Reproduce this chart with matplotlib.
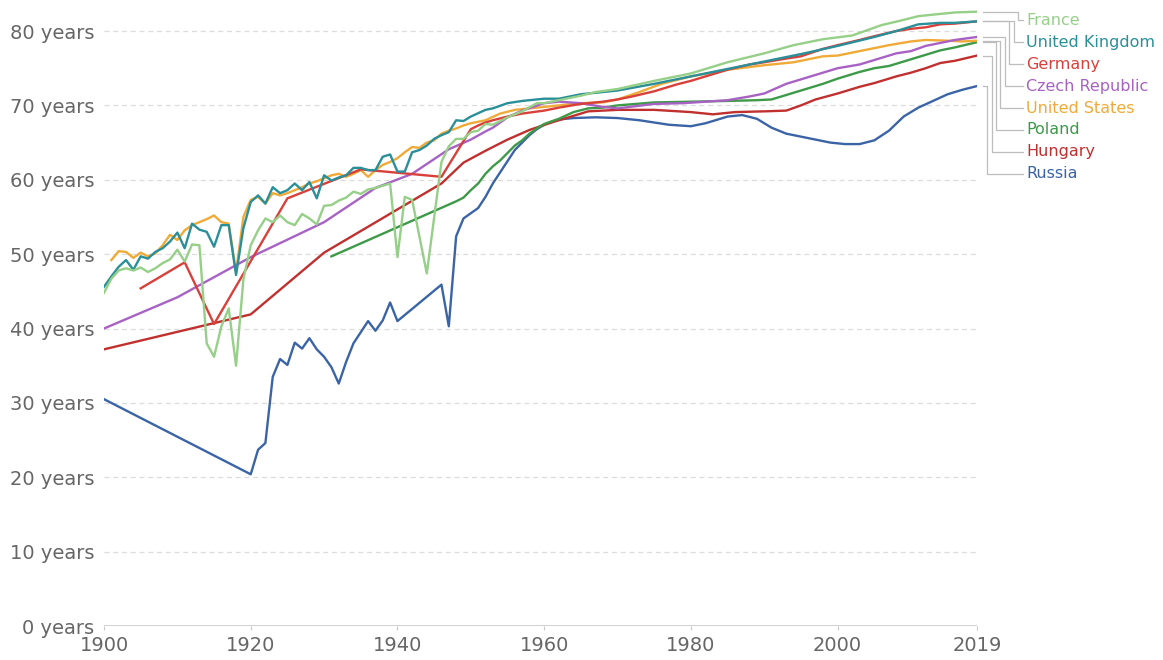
import matplotlib
matplotlib.use("Agg")
import matplotlib.pyplot as plt

plt.rcParams.update({
    "font.family": "DejaVu Sans",
    "figure.dpi": 100,
})

# ---- data (life expectancy, years) ----
france_years = list(range(1900, 1943)) + [1944, 1946, 1947, 1948, 1949, 1950, 1951, 1952, 1953,
                                         1955, 1957, 1959, 1960, 1962, 1965, 1967, 1970, 1975,
                                         1980, 1985, 1990, 1994, 1998, 2002, 2006, 2009, 2011,
                                         2014, 2016, 2019]
france_vals = [44.8, 46.7, 47.8, 48.1, 47.8, 48.2, 47.6, 48.1, 48.8, 49.3,
               50.6, 49.0, 51.3, 51.2, 38.0, 36.2, 40.3, 42.7, 35.0, 46.6,
               51.2, 53.2, 54.8, 54.3, 55.2, 54.3, 53.9, 55.4, 54.8, 54.0,
               56.5, 56.6, 57.2, 57.6, 58.4, 58.1, 58.7, 58.9, 59.2, 59.5,
               49.6, 57.7, 57.3,
               47.4, 62.4, 64.5, 65.5, 65.5, 66.4, 66.6, 67.5, 67.4,
               68.4, 69.2, 70.3, 70.3, 70.7, 71.3, 71.8, 72.2, 73.3,
               74.3, 75.8, 77.0, 78.1, 78.9, 79.4, 80.8, 81.5, 82.0,
               82.3, 82.5, 82.6]

uk_years = list(range(1900, 1951)) + [1952, 1953, 1955, 1957, 1960, 1962, 1965, 1967, 1970,
                                     1975, 1980, 1985, 1990, 1995, 2000, 2005, 2008, 2011,
                                     2014, 2016, 2019]
uk_vals = [45.6, 47.0, 48.3, 49.2, 47.9, 49.7, 49.4, 50.3, 50.8, 51.7,
           52.9, 50.8, 54.1, 53.3, 53.0, 51.0, 53.9, 53.9, 47.2, 53.5,
           57.0, 57.9, 56.8, 59.0, 58.2, 58.6, 59.5, 58.6, 59.7, 57.5,
           60.6, 59.9, 60.3, 60.6, 61.6, 61.6, 61.3, 61.3, 63.1, 63.4,
           61.1, 61.1, 63.7, 64.0, 64.6, 65.5, 66.0, 66.4, 68.0, 67.9,
           68.5, 69.4, 69.6, 70.3, 70.6, 70.9, 70.9, 71.5, 71.7, 72.0,
           72.9, 73.9, 74.9, 75.9, 76.9, 78.0, 79.2, 80.0, 80.9,
           81.1, 81.1, 81.3]

germany_years = [1905, 1911, 1915, 1925, 1935, 1946, 1950, 1951, 1952, 1953, 1955, 1957,
                 1960, 1962, 1965, 1968, 1970, 1972, 1975, 1978, 1980, 1983, 1985, 1988,
                 1990, 1993, 1995, 1998, 2000, 2003, 2005, 2008, 2010, 2012, 2014, 2016, 2019]
germany_vals = [45.4, 48.9, 40.6, 57.5, 61.4, 60.4, 66.8, 67.3, 67.7, 68.0, 68.5, 68.9,
                69.3, 69.7, 70.2, 70.5, 70.8, 71.2, 71.9, 72.8, 73.3, 74.2, 74.8, 75.5,
                75.8, 76.3, 76.6, 77.6, 78.1, 78.8, 79.3, 80.0, 80.3, 80.5, 80.9, 81.0, 81.3]

czech_years = [1900, 1910, 1920, 1930, 1937, 1942, 1947, 1950, 1952, 1953, 1955, 1957, 1960,
               1962, 1965, 1968, 1970, 1975, 1979, 1982, 1985, 1988, 1990, 1993, 1995, 1998,
               2000, 2003, 2005, 2008, 2010, 2012, 2014, 2016, 2019]
czech_vals = [40.0, 44.2, 49.6, 54.3, 58.9, 60.8, 64.1, 65.4, 66.5, 67.0, 68.4, 69.3, 70.3,
              70.5, 70.3, 69.8, 69.6, 70.2, 70.3, 70.5, 70.7, 71.2, 71.6, 72.9, 73.5, 74.4,
              75.0, 75.5, 76.1, 77.0, 77.3, 78.0, 78.4, 78.8, 79.2]

us_years = list(range(1901, 1951)) + [1952, 1954, 1956, 1958, 1960, 1962, 1965, 1968, 1970,
                                     1973, 1976, 1980, 1985, 1990, 1994, 1998, 2000, 2004,
                                     2007, 2010, 2012, 2015, 2017, 2019]
us_vals = [49.2, 50.4, 50.3, 49.5, 50.2, 49.7, 50.1, 51.2, 52.6, 51.9,
           53.2, 53.9, 54.3, 54.7, 55.2, 54.3, 54.1, 47.6, 55.0, 57.3,
           57.7, 56.8, 58.2, 57.9, 58.2, 58.6, 59.0, 59.5, 59.8, 60.2,
           60.6, 60.8, 60.4, 60.8, 61.3, 60.4, 61.3, 62.0, 62.4, 62.9,
           63.7, 64.4, 64.3, 65.0, 65.3, 66.2, 66.6, 66.9, 67.3, 67.6,
           68.0, 68.9, 69.4, 69.6, 69.8, 70.0, 70.3, 70.4, 70.8,
           71.8, 72.9, 73.9, 74.8, 75.4, 75.8, 76.6, 76.7, 77.5,
           78.1, 78.6, 78.8, 78.7, 78.6, 78.7]

poland_years = [1931, 1948, 1949, 1950, 1951, 1952, 1953, 1954, 1955, 1956, 1957, 1958, 1959,
                1960, 1962, 1964, 1966, 1968, 1970, 1975, 1980, 1985, 1989, 1991, 1993, 1995,
                1998, 2000, 2003, 2005, 2007, 2010, 2012, 2014, 2016, 2019]
poland_vals = [49.7, 57.1, 57.6, 58.6, 59.5, 60.8, 61.8, 62.6, 63.6, 64.6, 65.3, 66.2, 66.9,
               67.5, 68.2, 69.1, 69.6, 69.7, 70.0, 70.4, 70.5, 70.6, 70.7, 70.8, 71.4, 72.0,
               72.9, 73.6, 74.5, 75.0, 75.3, 76.2, 76.8, 77.4, 77.8, 78.5]

hungary_years = [1900, 1920, 1930, 1946, 1949, 1952, 1955, 1958, 1961, 1964, 1966, 1970,
                 1975, 1980, 1983, 1986, 1990, 1993, 1995, 1997, 2000, 2003, 2005, 2008,
                 2010, 2012, 2014, 2016, 2019]
hungary_vals = [37.2, 41.9, 50.2, 59.5, 62.3, 63.9, 65.4, 66.7, 67.7, 68.6, 69.2, 69.4,
                69.4, 69.1, 68.8, 69.1, 69.2, 69.3, 70.0, 70.8, 71.6, 72.5, 73.0, 73.9,
                74.4, 75.0, 75.7, 76.0, 76.7]

russia_years = [1900] + list(range(1920, 1941)) + list(range(1946, 1963)) + [
    1964, 1967, 1970, 1973, 1975, 1977, 1980, 1982, 1985, 1987, 1989, 1991, 1993, 1994,
    1996, 1999, 2001, 2003, 2005, 2007, 2009, 2011, 2013, 2015, 2017, 2019]
russia_vals = [30.5,
               20.4, 23.7, 24.6, 33.5, 35.9, 35.1, 38.1, 37.3, 38.7, 37.2,
               36.2, 34.8, 32.6, 35.5, 38.0, 39.5, 41.0, 39.7, 41.1, 43.5, 41.0,
               45.9, 40.3, 52.4, 54.8, 55.5, 56.2, 57.7, 59.5, 61.0, 62.5,
               64.0, 65.0, 66.0, 66.8, 67.4, 67.8, 68.1,
               68.3, 68.4, 68.3, 68.0, 67.7, 67.4, 67.2, 67.6, 68.5, 68.7, 68.2, 67.0, 66.2, 66.0,
               65.6, 65.0, 64.8, 64.8, 65.3, 66.6, 68.5, 69.7, 70.6, 71.5, 72.1, 72.6]

countries = ["France", "United Kingdom", "Germany", "Czech Republic",
             "United States", "Poland", "Hungary", "Russia"]
series = {
    "France": (france_years, france_vals),
    "United Kingdom": (uk_years, uk_vals),
    "Germany": (germany_years, germany_vals),
    "Czech Republic": (czech_years, czech_vals),
    "United States": (us_years, us_vals),
    "Poland": (poland_years, poland_vals),
    "Hungary": (hungary_years, hungary_vals),
    "Russia": (russia_years, russia_vals),
}
colors = {
    "France": "#96cf88",
    "United Kingdom": "#2a8f99",
    "Germany": "#d9403a",
    "Czech Republic": "#a862c4",
    "United States": "#f0aa38",
    "Poland": "#3d9a49",
    "Hungary": "#c0302f",
    "Russia": "#3b64a6",
}

x_ticks = [1900, 1920, 1940, 1960, 1980, 2000, 2019]
y_ticks = [0, 10, 20, 30, 40, 50, 60, 70, 80]

fig = plt.figure(figsize=(11.63, 6.60))
ax = fig.add_axes([104 / 1163, 1 - 626 / 660, 873 / 1163, 621 / 660])
ax.set_xlim(1900, 2019)
ax.set_ylim(0, 83.5)

# draw back to front so the low lines sit underneath
for name in reversed(countries):
    yrs, vals = series[name]
    ax.plot(yrs, vals, color=colors[name], lw=1.7, solid_joinstyle="round", zorder=3)

for y in y_ticks[1:]:
    ax.axhline(y, color="#dcdcdc", lw=0.9, ls=(0, (4, 3)), zorder=1)
ax.axhline(0, color="#c8c8c8", lw=1.2, zorder=2)

for side in ["top", "right", "left", "bottom"]:
    ax.spines[side].set_visible(False)

ax.set_xticks(x_ticks)
ax.set_xticklabels([str(t) for t in x_ticks])
ax.set_yticks(y_ticks)
ax.set_yticklabels([f"{t} years" for t in y_ticks])
ax.tick_params(axis="x", length=3, color="#c8c8c8", pad=4, labelsize=14, labelcolor="#666666")
ax.tick_params(axis="y", length=0, pad=7, labelsize=14, labelcolor="#666666")

# right-hand labels with elbow connectors
px_per_year = 873 / 119
start_x = 2019 + 6 / px_per_year
label_x = 2019 + 49 / px_per_year
for i, name in enumerate(countries):
    yrs, vals = series[name]
    end_y = vals[-1]
    lab_y = 81.45 - 2.95 * i
    elbow_x = 2019 + (41 - 4.4 * i) / px_per_year
    ax.plot([start_x, elbow_x, elbow_x, label_x - 3 / px_per_year],
            [end_y, end_y, lab_y, lab_y],
            color="#bdbdbd", lw=0.9, clip_on=False, zorder=2)
    ax.text(label_x, lab_y, name, color=colors[name], fontsize=11.5,
            va="center", ha="left", clip_on=False)

fig.savefig("out.png", dpi=100)
